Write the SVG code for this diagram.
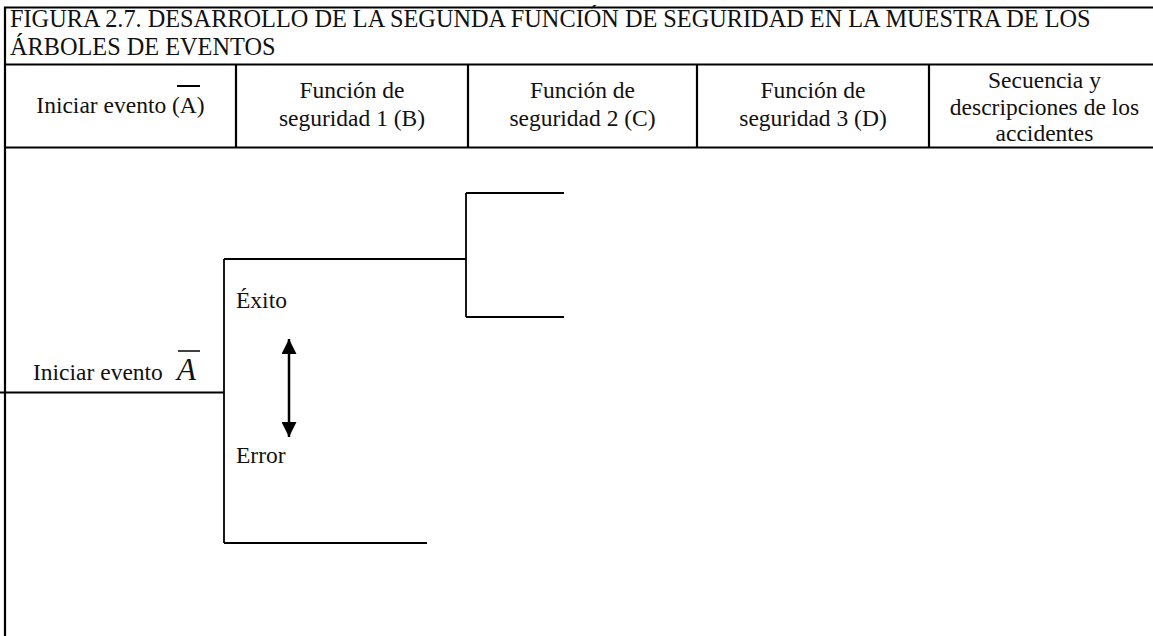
<svg xmlns="http://www.w3.org/2000/svg" width="1153" height="636" viewBox="0 0 1153 636">
  <style>
    .frame { stroke: #000; stroke-width: 2.2; fill: none; }
    .branch { stroke: #000; stroke-width: 1.8; fill: none; }
    .txt { font-family: "Liberation Serif", "Times New Roman", serif; fill: #111; }
    .title { font-size: 24.3px; }
    .head { font-size: 23.5px; text-anchor: middle; }
    .lbl { font-size: 23.5px; }
  </style>
  <defs>
    <marker id="tip" viewBox="0 0 10 10" refX="10" refY="5" markerUnits="userSpaceOnUse" markerWidth="15" markerHeight="15" orient="auto-start-reverse">
      <path d="M0,0 L10,5 L0,10 z" fill="#000"/>
    </marker>
  </defs>
  <rect width="1153" height="636" fill="#fff"/>

  <!-- table frame (right edge lies beyond the page) -->
  <g id="table-frame">
    <path class="frame" d="M5,636 V7.5 H1160 M5,64.5 H1160 M5,147.5 H1160"/>
    <path class="frame" d="M236,64.5 V147.5 M468,64.5 V147.5 M697,64.5 V147.5 M929,64.5 V147.5"/>
  </g>

  <g id="title" class="txt title">
    <text x="10" y="27">FIGURA 2.7. DESARROLLO DE LA SEGUNDA FUNCIÓN DE SEGURIDAD EN LA MUESTRA DE LOS</text>
    <text x="10" y="54.5">ÁRBOLES DE EVENTOS</text>
  </g>

  <g id="col-initiating" class="txt head">
    <text x="120.5" y="113">Iniciar evento (A)</text>
    <line x1="177" y1="86" x2="200" y2="86" stroke="#000" stroke-width="2"/>
  </g>
  <g id="col-safety-1" class="txt head">
    <text x="352" y="98">Función de</text>
    <text x="352" y="126">seguridad 1 (B)</text>
  </g>
  <g id="col-safety-2" class="txt head">
    <text x="582.5" y="98">Función de</text>
    <text x="582.5" y="126">seguridad 2 (C)</text>
  </g>
  <g id="col-safety-3" class="txt head">
    <text x="813" y="98">Función de</text>
    <text x="813" y="126">seguridad 3 (D)</text>
  </g>
  <g id="col-sequence" class="txt head">
    <text x="1044.5" y="88">Secuencia y</text>
    <text x="1044.5" y="115">descripciones de los</text>
    <text x="1044.5" y="141">accidentes</text>
  </g>

  <!-- event tree branches -->
  <g id="connectors">
    <path class="branch" d="M0,392.5 H224 M224,259 V543 M224,259 H466 M224,543 H427"/>
    <path class="branch" d="M466,193 V317 M466,193 H564 M466,317 H564"/>
    <line x1="289" y1="339" x2="289" y2="437" stroke="#000" stroke-width="2.5" marker-start="url(#tip)" marker-end="url(#tip)"/>
  </g>

  <g id="initiating-event" class="txt lbl">
    <text x="33" y="380">Iniciar evento</text>
    <text x="177" y="380" font-size="31" font-style="italic">A</text>
    <line x1="178" y1="351" x2="200" y2="351" stroke="#000" stroke-width="1.5"/>
  </g>
  <g id="success-label" class="txt lbl">
    <text x="236" y="308">Éxito</text>
  </g>
  <g id="failure-label" class="txt lbl">
    <text x="236" y="463">Error</text>
  </g>
</svg>
